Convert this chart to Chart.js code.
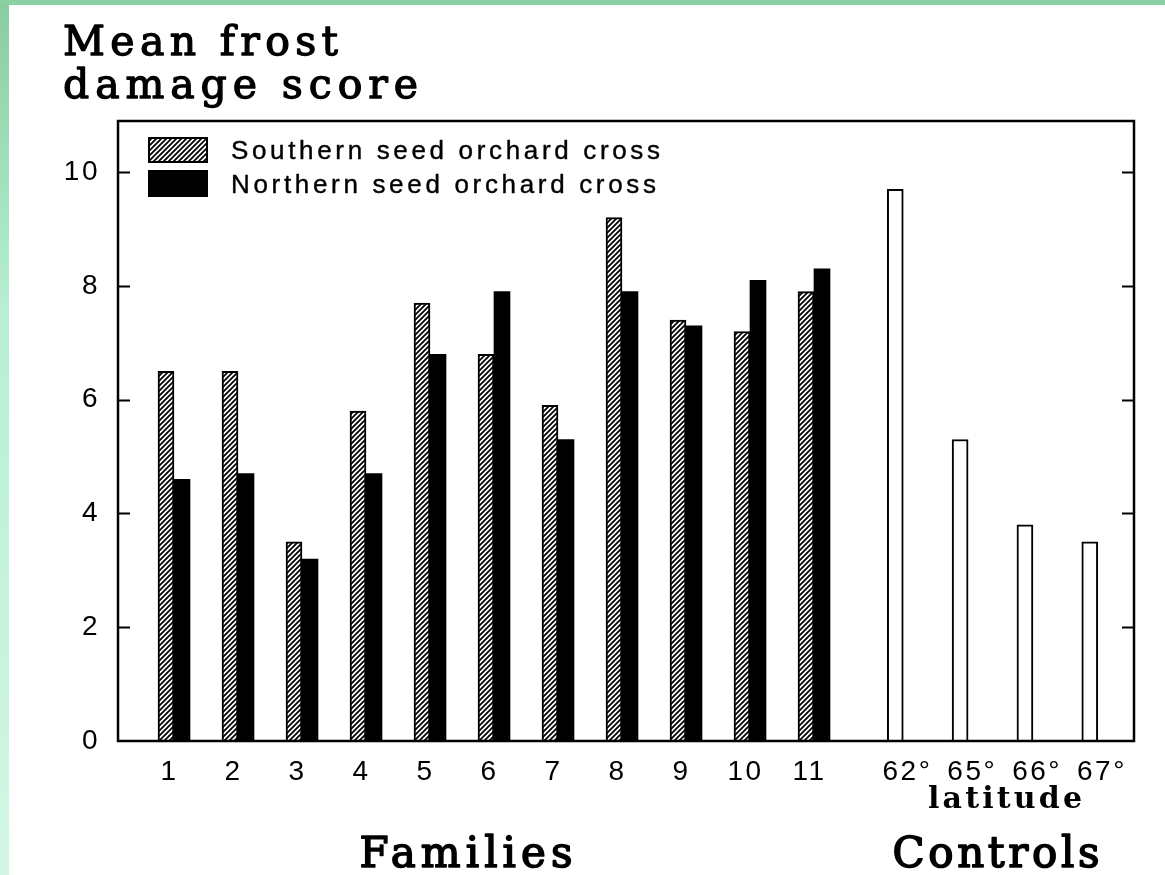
<!DOCTYPE html>
<html><head><meta charset="utf-8">
<script src="https://cdn.jsdelivr.net/npm/chart.js@4.4.1/dist/chart.umd.min.js"></script>
<style>
html,body{margin:0;padding:0;width:1165px;height:875px;overflow:hidden;}
body{background:linear-gradient(to bottom,#88cd9f 0%,#b6efd2 35%,#c6f4dc 70%,#d3f6e7 100%);position:relative;}
#top{position:absolute;left:0;top:0;width:1165px;height:5px;background:#8bd0a2;}
#paper{position:absolute;left:9px;top:5px;right:0;bottom:0;background:#fff;}
#wrap{position:absolute;left:0;top:0;width:1165px;height:875px;}
</style></head>
<body><div id="top"></div><div id="paper"></div>
<div id="wrap"><canvas id="c" width="1165" height="875"></canvas></div>
<script>
// ---- data ----
const familyLabels = ['1','2','3','4','5','6','7','8','9','10','11'];
const southernValues = [6.5, 6.5, 3.5, 5.8, 7.7, 6.8, 5.9, 9.2, 7.4, 7.2, 7.9];
const northernValues = [4.6, 4.7, 3.2, 4.7, 6.8, 7.9, 5.3, 7.9, 7.3, 8.1, 8.3];
const controlLabels = ['62°', '65°', '66°', '67°'];
const controlValues = [9.7, 5.3, 3.8, 3.5];
const yTickValues = [0, 2, 4, 6, 8, 10];
const seriesNames = ['Southern seed orchard cross', 'Northern seed orchard cross', 'Controls'];
const titleLines = ['Mean frost', 'damage score'];
const groupTitles = ['Families', 'Controls'];
const controlSubTitle = 'latitude';

// ---- layout constants (not data) ----
const CONTROL_START = 12.27, CONTROL_STEP = 1.013;
const familyX = familyLabels.map((_, i) => i + 1);
const controlX = controlLabels.map((_, j) => CONTROL_START + CONTROL_STEP * j);
const allTickX = familyX.map(v => v - 0.07).concat(controlX.map(v => v + 0.19));
const allTickLabels = familyLabels.concat(controlLabels);

function makeHatch() {
  const s = 5;
  const c = document.createElement('canvas');
  c.width = s; c.height = s;
  const g = c.getContext('2d');
  g.fillStyle = '#fff'; g.fillRect(0, 0, s, s);
  g.strokeStyle = '#000'; g.lineWidth = 1.8;
  g.beginPath();
  g.moveTo(-1, s + 1); g.lineTo(s + 1, -1);
  g.moveTo(-1, 1); g.lineTo(1, -1);
  g.moveTo(s - 1, s + 1); g.lineTo(s + 1, s - 1);
  g.stroke();
  return g.createPattern(c, 'repeat');
}
const hatch = makeHatch();

const SANS = '"Liberation Sans", Arial, sans-serif';
const SERIF = '"DejaVu Serif", serif';

function fitText(ctx, text, x, y, targetW, align, stroke) {
  ctx.letterSpacing = '0px';
  const w0 = ctx.measureText(text).width;
  const n = text.length;
  const sp = n > 1 ? (targetW - w0) / (n - 1) : 0;
  ctx.letterSpacing = sp + 'px';
  const w = w0 + sp * (n - 1);
  let sx = x;
  if (align === 'center') sx = x - w / 2;
  ctx.textAlign = 'left';
  ctx.fillText(text, sx, y);
  if (stroke) {
    ctx.lineWidth = stroke;
    ctx.strokeStyle = ctx.fillStyle;
    ctx.lineJoin = 'round';
    ctx.strokeText(text, sx, y);
  }
  ctx.letterSpacing = '0px';
}

const decorPlugin = {
  id: 'decor',
  beforeDraw(chart) { chart.ctx.letterSpacing = '2.5px'; },
  afterDraw(chart) {
    const ctx = chart.ctx;
    const a = chart.chartArea;
    const ys = chart.scales.y;
    ctx.save();
    ctx.letterSpacing = '0px';
    // frame
    ctx.strokeStyle = '#000';
    ctx.lineWidth = 2.5;
    ctx.strokeRect(a.left, a.top, a.right - a.left, a.bottom - a.top);
    // inward ticks on both sides
    ctx.lineWidth = 2;
    ctx.beginPath();
    yTickValues.forEach(v => {
      if (v === 0) return;
      const py = Math.round(ys.getPixelForValue(v)) + 0.5;
      ctx.moveTo(a.left, py); ctx.lineTo(a.left + 12, py);
      ctx.moveTo(a.right - 12, py); ctx.lineTo(a.right, py);
    });
    ctx.stroke();
    // legend
    const ds = chart.data.datasets;
    const lx = a.left + 30;
    const boxes = [{y: a.top + 16, h: 26}, {y: a.top + 49, h: 27}];
    for (let i = 0; i < 2; i++) {
      ctx.fillStyle = ds[i].backgroundColor;
      ctx.fillRect(lx, boxes[i].y, 60, boxes[i].h);
      ctx.strokeStyle = '#000'; ctx.lineWidth = 2;
      ctx.strokeRect(lx + 1, boxes[i].y + 1, 58, boxes[i].h - 2);
      ctx.fillStyle = '#000';
      ctx.font = '26px ' + SANS;
      ctx.textBaseline = 'alphabetic';
      fitText(ctx, ds[i].label, lx + 83, boxes[i].y + boxes[i].h / 2 + 9, i === 0 ? 429 : 425, 'left', 0.4);
    }
    // titles
    ctx.fillStyle = '#000';
    ctx.textBaseline = 'alphabetic';
    ctx.font = '41px ' + SERIF;
    fitText(ctx, titleLines[0], 63, 55, 275, 'left', 1.3);
    fitText(ctx, titleLines[1], 63, 98, 355, 'left', 1.3);
    ctx.font = 'bold 30px ' + SERIF;
    fitText(ctx, controlSubTitle, 1005, 808, 154, 'center');
    ctx.font = '42px ' + SERIF;
    fitText(ctx, groupTitles[0], 466, 867, 213, 'center', 1.6);
    fitText(ctx, groupTitles[1], 996, 867, 207, 'center', 1.6);
    ctx.restore();
  }
};

new Chart(document.getElementById('c'), {
  type: 'bar',
  data: {
    datasets: [
      {
        label: seriesNames[0],
        data: southernValues.map((v, i) => ({x: familyX[i], y: v})),
        backgroundColor: hatch, borderColor: '#000', borderWidth: 2,
        barThickness: 16, grouped: true
      },
      {
        label: seriesNames[1],
        data: northernValues.map((v, i) => ({x: familyX[i], y: v})),
        backgroundColor: '#000', borderColor: '#000', borderWidth: 0,
        barThickness: 16, grouped: true
      },
      {
        label: seriesNames[2],
        data: controlValues.map((v, j) => ({x: controlX[j], y: v})),
        backgroundColor: '#fff', borderColor: '#000', borderWidth: 2,
        barThickness: 16, grouped: false
      }
    ]
  },
  options: {
    responsive: false,
    animation: false,
    devicePixelRatio: 1,
    layout: {padding: {left: 58, top: 121, right: 31, bottom: 84}},
    plugins: {legend: {display: false}, title: {display: false}, tooltip: {enabled: false}},
    scales: {
      x: {
        type: 'linear', min: 0.125, max: 16, offset: false,
        grid: {display: false, drawTicks: false, offset: false},
        border: {display: false},
        afterBuildTicks: s => { s.ticks = allTickX.map(v => ({value: v})); },
        afterFit: s => { s.height = 50; },
        ticks: {
          autoSkip: false, maxRotation: 0, padding: 14, color: '#000',
          font: {family: SANS, size: 28},
          callback: (v, i) => allTickLabels[i]
        }
      },
      y: {
        min: 0, max: 10.9,
        grid: {display: false, drawTicks: false},
        border: {display: false},
        afterBuildTicks: s => { s.ticks = yTickValues.map(v => ({value: v})); },
        afterFit: s => { s.width = 60; },
        ticks: {padding: 18, color: '#000', font: {family: SANS, size: 28}}
      }
    }
  },
  plugins: [decorPlugin]
});
</script>
</body></html>
